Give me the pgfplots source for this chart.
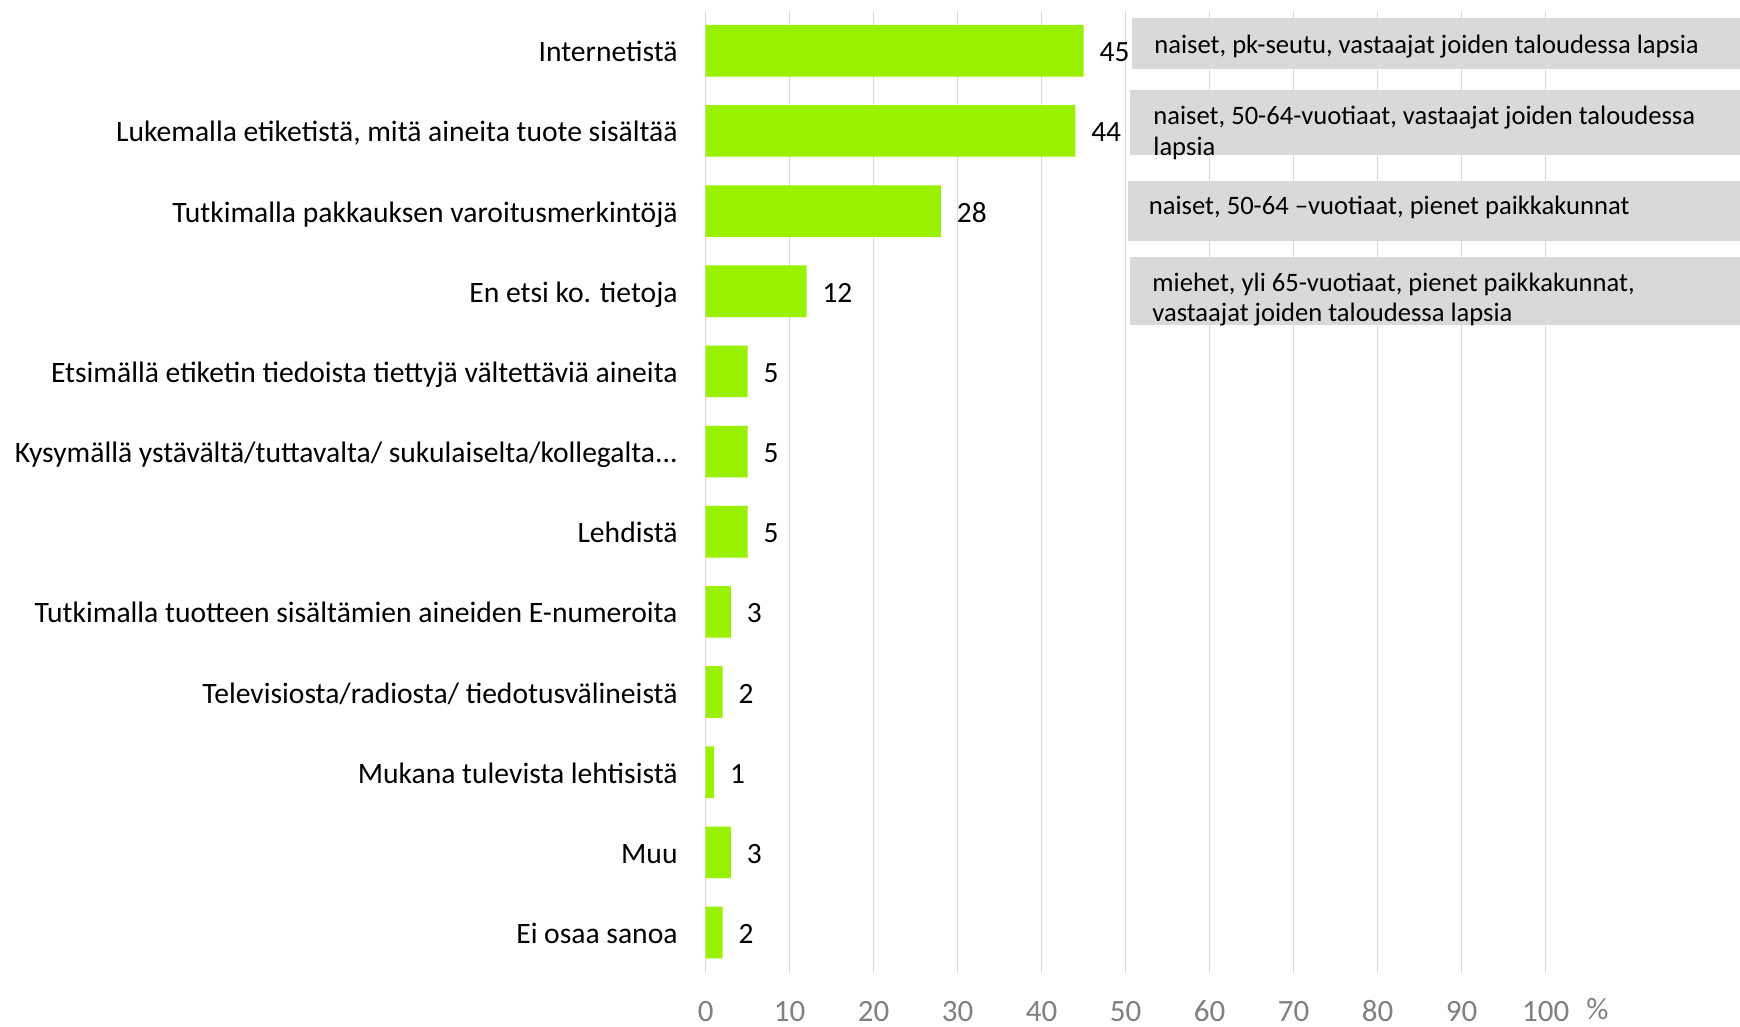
\documentclass[border=0pt]{standalone}
\usepackage{pgfplots}
\pgfplotsset{compat=1.18}
\usepackage{fontspec}
\setmainfont{Carlito}
\definecolor{barg}{RGB}{153,240,0}
\definecolor{gridc}{RGB}{217,217,217}
\definecolor{boxc}{RGB}{217,217,217}
\definecolor{tickc}{RGB}{128,128,128}
\begin{document}
\begin{tikzpicture}[x=1pt,y=1pt]
\useasboundingbox (0,0) rectangle (870,513.5);
\begin{axis}[
  at={(352.85pt,27.2pt)}, anchor=south west,
  scale only axis, width=420pt, height=480.95pt,
  xmin=0, xmax=100, ymin=-0.5, ymax=11.5, y dir=reverse,
  xbar, bar width=0.644, bar shift=0pt,
  axis line style={draw=none},
  major tick length=0pt,
  xtick={0,10,20,30,40,50,60,70,80,90,100},
  xmajorgrids, grid style={gridc, line width=0.6pt},
  ytick={0,1,2,3,4,5,6,7,8,9,10,11},
  yticklabels={{Internetistä},{Lukemalla etiketistä, mitä aineita tuote sisältää},{Tutkimalla pakkauksen varoitusmerkintöjä},{En etsi ko. tietoja},{Etsimällä etiketin tiedoista tiettyjä vältettäviä aineita},{Kysymällä ystävältä/tuttavalta/ sukulaiselta/kollegalta.{}.{}.},{Lehdistä},{Tutkimalla tuotteen sisältämien aineiden E-numeroita},{Televisiosta/radiosta/ tiedotusvälineistä},{Mukana tulevista lehtisistä},{Muu},{Ei osaa sanoa}},
  /pgf/number format/assume math mode=true,
  xticklabel style={font=\fontsize{15.5}{18}\selectfont, text=tickc, anchor=base, inner sep=0pt, yshift=-24.6pt},
  yticklabel style={font=\fontsize{14.8}{17}\selectfont, anchor=base east, inner sep=0pt, xshift=-13.85pt, yshift=-5.5pt},
  nodes near coords, point meta=x,
  nodes near coords style={font=\fontsize{14.7}{17}\selectfont, anchor=base west, inner sep=0pt, xshift=7.8pt, yshift=-5.5pt, text=black},
  clip=false,
]
\addplot[fill=barg, draw=none] coordinates {
(45,0) (44,1) (28,2) (12,3) (5,4) (5,5) (5,6) (3,7) (2,8) (1,9) (3,10) (2,11)
};
\end{axis}
\fill[boxc] (566,479) rectangle (870,504.35);
\node[anchor=base west, inner sep=0pt, font=\fontsize{13.3}{16}\selectfont] at (577,486.85) {naiset, pk-seutu, vastaajat joiden taloudessa lapsia};
\fill[boxc] (565,436) rectangle (870,468.5);
\node[anchor=base west, inner sep=0pt, font=\fontsize{13.3}{16}\selectfont] at (576.5,451) {naiset, 50-64-vuotiaat, vastaajat joiden taloudessa};
\node[anchor=base west, inner sep=0pt, font=\fontsize{13.3}{16}\selectfont] at (576.5,435.5) {lapsia};
\fill[boxc] (563.75,392.75) rectangle (870,423);
\node[anchor=base west, inner sep=0pt, font=\fontsize{13.3}{16}\selectfont] at (574.25,406) {naiset, 50-64 –vuotiaat, pienet paikkakunnat};
\fill[boxc] (565,351) rectangle (870,385.15);
\node[anchor=base west, inner sep=0pt, font=\fontsize{13.3}{16}\selectfont] at (576,367.65) {miehet, yli 65-vuotiaat, pienet paikkakunnat,};
\node[anchor=base west, inner sep=0pt, font=\fontsize{13.3}{16}\selectfont] at (576,352.65) {vastaajat joiden taloudessa lapsia};
\node[anchor=base west, inner sep=0pt, text=tickc, font=\fontsize{15.5}{18}\selectfont] at (793,3.6) {\%};
\end{tikzpicture}
\end{document}
